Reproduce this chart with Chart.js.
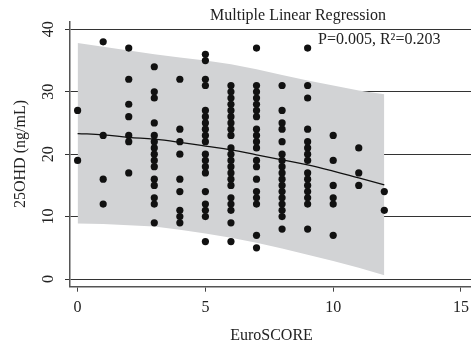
<!DOCTYPE html>
<html>
<head>
<meta charset="utf-8">
<script src="https://cdn.jsdelivr.net/npm/chart.js@4.4.1/dist/chart.umd.min.js"></script>
<style>
  html, body { margin: 0; padding: 0; background: #fff; overflow: hidden; }
  #wrap { width: 500px; height: 347px; }
</style>
</head>
<body>
<div id="wrap"><canvas id="chart" width="500" height="347"></canvas></div>
<script>
// EuroSCORE columns and the 25OHD values observed in each
const euroScore = [0, 1, 2, 3, 4, 5, 6, 7, 8, 9, 10, 11, 12];
const vitD = [
    [27, 19],
    [38, 23, 16, 12],
    [37, 32, 28, 26, 23, 22, 17],
    [34, 30, 29, 25, 23, 22, 21, 20, 19, 18, 16, 15, 13, 12, 9],
    [32, 24, 22, 20, 16, 14, 11, 10, 9],
    [36, 35, 32, 31, 27, 26, 25, 24, 23, 22, 20, 19, 18, 17, 14, 12, 11, 10, 6],
    [31, 30, 29, 28, 27, 26, 25, 24, 23, 21, 20, 19, 18, 17, 16, 15, 13, 12, 11, 9, 6],
    [37, 31, 30, 29, 28, 27, 26, 24, 23, 22, 21, 19, 18, 16, 14, 13, 12, 7, 5],
    [31, 27, 25, 24, 22, 20, 19, 18, 17, 16, 15, 14, 13, 12, 11, 10, 8],
    [37, 31, 29, 24, 22, 21, 20, 19, 17, 16, 15, 14, 13, 12, 8],
    [23, 19, 15, 13, 12, 7],
    [21, 17, 15],
    [14, 11]
];

// fitted curve and its band, read at each EuroSCORE
const fitY = [23.3, 23.1, 22.7, 22.4, 21.9, 21.3, 20.7, 19.9, 19.1, 18.3, 17.3, 16.2, 15.1];
const bandUpper = [37.8, 37.2, 36.6, 36.0, 35.5, 35.0, 34.4, 33.6, 32.7, 31.8, 31.0, 30.2, 29.6];
const bandLower = [8.9, 8.8, 8.6, 8.4, 7.9, 7.3, 6.6, 5.8, 4.9, 3.9, 2.9, 1.8, 0.6];

const xTicks = [0, 5, 10, 15];
const yTicks = [0, 10, 20, 30, 40];

const FONT = '"Liberation Serif", "Times New Roman", serif';

const points = [];
euroScore.forEach((x, i) => vitD[i].forEach(y => points.push({ x: x, y: y })));
const toXY = arr => arr.map((y, i) => ({ x: euroScore[i], y: y }));

const textPlugin = {
    id: "textLabels",
    afterDraw(chart) {
        const ctx = chart.ctx;
        const xs = chart.scales.x;
        const ys = chart.scales.y;
        ctx.save();
        ctx.fillStyle = "#222";
        ctx.textBaseline = "alphabetic";
        ctx.textAlign = "center";
        ctx.font = "16px " + FONT;

        xTicks.forEach(v => ctx.fillText(String(v), xs.getPixelForValue(v), 311.5));
        yTicks.forEach(v => {
            ctx.save();
            ctx.translate(53, ys.getPixelForValue(v));
            ctx.rotate(-Math.PI / 2);
            ctx.fillText(String(v), 0, 0);
            ctx.restore();
        });

        ctx.font = "16px " + FONT;
        ctx.fillText("Multiple Linear Regression", 298, 20);
        ctx.fillText("EuroSCORE", 271.5, 340);

        ctx.save();
        ctx.translate(25, 154);
        ctx.rotate(-Math.PI / 2);
        ctx.fillText("25OHD (ng/mL)", 0, 0);
        ctx.restore();

        ctx.textAlign = "left";
        ctx.fillText("P=0.005, R\u00B2=0.203", 318, 44);
        ctx.restore();
    }
};

const ctx = document.getElementById("chart").getContext("2d");
new Chart(ctx, {
    type: "scatter",
    data: {
        datasets: [
            {
                type: "scatter",
                data: points,
                backgroundColor: "#111",
                borderWidth: 0,
                pointRadius: 3.6,
                order: 0
            },
            {
                type: "line",
                data: toXY(fitY),
                borderColor: "#111",
                borderWidth: 1.3,
                pointRadius: 0,
                tension: 0.4,
                fill: false,
                order: 1
            },
            {
                type: "line",
                data: toXY(bandUpper),
                borderColor: "rgba(0,0,0,0)",
                backgroundColor: "#d2d3d5",
                pointRadius: 0,
                fill: "+1",
                order: 2
            },
            {
                type: "line",
                data: toXY(bandLower),
                borderColor: "rgba(0,0,0,0)",
                pointRadius: 0,
                fill: false,
                order: 3
            }
        ]
    },
    options: {
        responsive: false,
        animation: false,
        layout: { padding: { top: 21.7, left: 0, right: 0, bottom: 0 } },
        plugins: {
            legend: { display: false },
            tooltip: { enabled: false }
        },
        scales: {
            x: {
                type: "linear",
                min: -0.298,
                max: 16.37,
                afterBuildTicks: s => { s.ticks = xTicks.map(v => ({ value: v })); },
                afterFit: s => { s.height = 60.3; },
                ticks: { display: false },
                grid: { drawOnChartArea: false, drawTicks: true, tickLength: 5, color: "#444", lineWidth: 1 },
                border: { color: "#555", width: 1.5 }
            },
            y: {
                type: "linear",
                min: -1.23,
                max: 41.22,
                afterBuildTicks: s => { s.ticks = yTicks.map(v => ({ value: v })); },
                afterFit: s => { s.width = 70; },
                ticks: { display: false },
                grid: { drawOnChartArea: true, drawTicks: true, tickLength: 5, color: "#333", lineWidth: 1 },
                border: { color: "#555", width: 1.5 }
            }
        }
    },
    plugins: [textPlugin]
});
</script>
</body>
</html>
